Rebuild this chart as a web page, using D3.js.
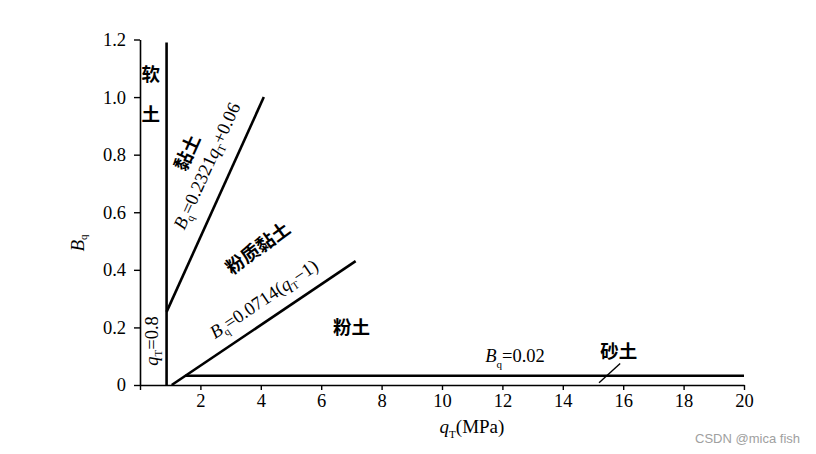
<!DOCTYPE html>
<html>
<head>
<meta charset="utf-8">
<script src="https://cdn.jsdelivr.net/npm/d3@7"></script>
<style>
  html, body { margin: 0; padding: 0; background: #fff; }
  svg { display: block; }
  .serif { font-family: "Liberation Serif", "DejaVu Serif", serif; }
  .cjk { font-family: "Noto Sans CJK SC", sans-serif; font-weight: 700; }
</style>
</head>
<body>
<svg id="chart" width="816" height="454"></svg>
<script>
// ---- data ----
const xTicks = [0, 2, 4, 6, 8, 10, 12, 14, 16, 18, 20];
const xTickLabels = ["", "2", "4", "6", "8", "10", "12", "14", "16", "18", "20"];
const yTicks = [0, 0.2, 0.4, 0.6, 0.8, 1.0, 1.2];
const yTickLabels = ["0", "0.2", "0.4", "0.6", "0.8", "1.0", "1.2"];

// boundary lines (qT, Bq)
const lineQT08 = [[0.88, 0], [0.88, 1.19]];
const lineClay = [[0.88, 0.254], [4.1, 1.0]];        // Bq = 0.2321 qT + 0.06
const lineSiltClay = [[1.05, 0], [7.14, 0.43]];      // Bq = 0.0714 (qT - 1)
const lineSand = [[1.5, 0.032], [20, 0.032]];        // Bq = 0.02
const lineSandLeader = [[15.2, 0.008], [15.9, 0.075]];

// region labels: [text, qT, Bq]
const regionLabels = [
  ["软", 0.36, 1.083],
  ["土", 0.36, 0.944],
  ["粉土", 7.0, 0.205],
  ["砂土", 15.85, 0.122]
];

// ---- layout ----
const svg = d3.select("#chart");
const x = d3.scaleLinear().domain([0, 20]).range([140, 744]);
const y = d3.scaleLinear().domain([0, 1.2]).range([385, 39.5]);

const line = d3.line().x(d => x(d[0])).y(d => y(d[1]));

// axes
const xAxis = d3.axisBottom(x).tickValues(xTicks)
  .tickFormat((d, i) => xTickLabels[i]).tickSizeInner(5).tickSizeOuter(0).tickPadding(4);
const yAxis = d3.axisLeft(y).tickValues(yTicks)
  .tickFormat((d, i) => yTickLabels[i]).tickSizeInner(6).tickSizeOuter(0).tickPadding(8);

const gx = svg.append("g").attr("transform", `translate(0,${y(0)})`).call(xAxis);
const gy = svg.append("g").attr("transform", `translate(${x(0)},0)`).call(yAxis);
[gx, gy].forEach(g => {
  g.select(".domain").attr("stroke", "#000").attr("stroke-width", 1.6);
  g.selectAll(".tick line").attr("stroke", "#000").attr("stroke-width", 1.4);
  g.selectAll(".tick text").attr("class", "serif").attr("font-size", 18.5).attr("fill", "#000");
});

// boundary lines
[lineQT08, lineClay, lineSiltClay, lineSand].forEach(pts => {
  svg.append("path").attr("d", line(pts)).attr("fill", "none")
    .attr("stroke", "#000").attr("stroke-width", 2.6);
});
svg.append("path").attr("d", line(lineSandLeader)).attr("fill", "none")
  .attr("stroke", "#000").attr("stroke-width", 1.4);

// helper: angle of a data line in screen space
function angleOf(pts) {
  const dx = x(pts[1][0]) - x(pts[0][0]);
  const dy = y(pts[1][1]) - y(pts[0][1]);
  return Math.atan2(dy, dx) * 180 / Math.PI;
}

// region labels (horizontal)
regionLabels.forEach(([t, q, b]) => {
  svg.append("text").attr("class", "cjk").attr("x", x(q)).attr("y", y(b))
    .attr("text-anchor", "middle").attr("dominant-baseline", "central")
    .attr("font-size", 18.5).attr("fill", "#000").text(t);
});

// rotated labels
function rotText(px, py, ang) {
  return svg.append("text")
    .attr("transform", `translate(${px},${py}) rotate(${ang})`)
    .attr("text-anchor", "middle").attr("dominant-baseline", "central")
    .attr("fill", "#000");
}

const aClay = angleOf(lineClay);
const aSilt = angleOf(lineSiltClay);

// 黏土
rotText(186, 152, aClay).attr("class", "cjk").attr("font-size", 18.5).text("黏土");

// Bq=0.2321qT+0.06
{
  const t = rotText(207, 166, aClay).attr("class", "serif").attr("font-size", 18.5);
  t.append("tspan").attr("font-style", "italic").text("B");
  t.append("tspan").attr("font-size", 11).attr("dy", 6).text("q");
  t.append("tspan").attr("dy", -6).text("=0.2321");
  t.append("tspan").attr("font-style", "italic").text("q");
  t.append("tspan").attr("font-size", 11).attr("dy", 6).text("T");
  t.append("tspan").attr("dy", -6).text("+0.06");
}

// 粉质黏土
rotText(257, 247, aSilt - 2).attr("class", "cjk").attr("font-size", 18.5).text("粉质黏土");

// Bq=0.0714(qT-1)
{
  const t = rotText(264, 299, aSilt).attr("class", "serif").attr("font-size", 18.5);
  t.append("tspan").attr("font-style", "italic").text("B");
  t.append("tspan").attr("font-size", 11).attr("dy", 6).text("q");
  t.append("tspan").attr("dy", -6).text("=0.0714(");
  t.append("tspan").attr("font-style", "italic").text("q");
  t.append("tspan").attr("font-size", 11).attr("dy", 6).text("T");
  t.append("tspan").attr("dy", -6).text("−1)");
}

// qT=0.8 (vertical)
{
  const t = rotText(152, 341, -90).attr("class", "serif").attr("font-size", 18.5);
  t.append("tspan").attr("font-style", "italic").text("q");
  t.append("tspan").attr("font-size", 11).attr("dy", 6).text("T");
  t.append("tspan").attr("dy", -6).text("=0.8");
}

// Bq=0.02
{
  const t = svg.append("text").attr("class", "serif").attr("x", 515).attr("y", 362)
    .attr("text-anchor", "middle").attr("font-size", 18.5).attr("fill", "#000");
  t.append("tspan").attr("font-style", "italic").text("B");
  t.append("tspan").attr("font-size", 11).attr("dy", 6).text("q");
  t.append("tspan").attr("dy", -6).text("=0.02");
}

// axis titles
{
  const t = svg.append("text").attr("class", "serif").attr("x", 472).attr("y", 433)
    .attr("text-anchor", "middle").attr("font-size", 19).attr("fill", "#000");
  t.append("tspan").attr("font-style", "italic").text("q");
  t.append("tspan").attr("font-size", 11).attr("dy", 5).text("T");
  t.append("tspan").attr("dy", -5).text("(MPa)");
}
{
  const t = rotText(77, 243, -90).attr("class", "serif").attr("font-size", 19);
  t.append("tspan").attr("font-style", "italic").text("B");
  t.append("tspan").attr("font-size", 11).attr("dy", 6).text("q");
}

// watermark
svg.append("text").attr("x", 800).attr("y", 443).attr("text-anchor", "end")
  .attr("font-family", "Liberation Sans, Arial, sans-serif").attr("font-size", 13)
  .attr("fill", "#a0a0a0").text("CSDN @mica fish");
</script>
</body>
</html>
